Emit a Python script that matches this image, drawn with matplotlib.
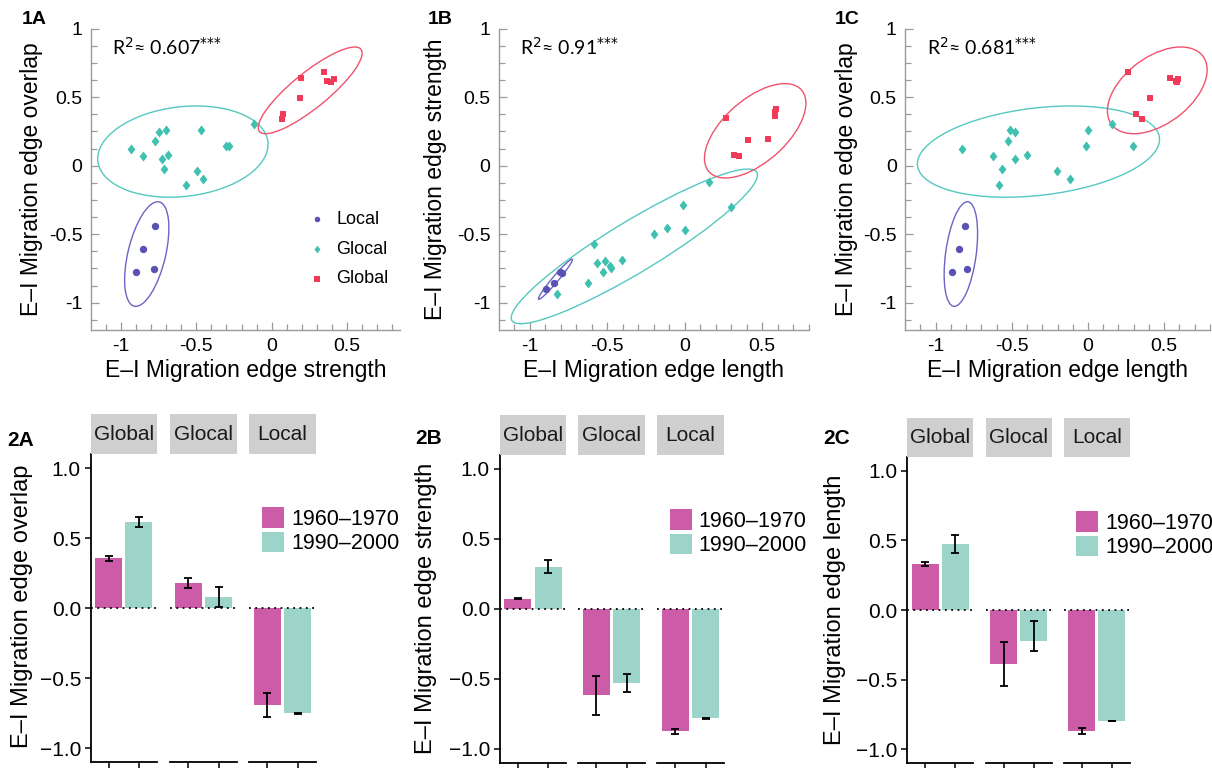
import numpy as np
import matplotlib
matplotlib.use("Agg")
import matplotlib.pyplot as plt
from matplotlib.patches import Ellipse, Patch
from matplotlib.transforms import blended_transform_factory

plt.rcParams['font.family'] = ['Liberation Sans', 'DejaVu Sans']

# --- scatter data: E-I indices of each node, by group ---
local_strength = [-0.777, -0.856, -0.900, -0.781]
local_length = [-0.808, -0.845, -0.893, -0.792]
local_overlap = [-0.440, -0.608, -0.778, -0.754]

glocal_strength = [-0.933, -0.856, -0.775, -0.746, -0.698, -0.730, -0.690, -0.712,
                   -0.570, -0.498, -0.468, -0.454, -0.302, -0.284, -0.118]
glocal_length = [-0.827, -0.625, -0.526, -0.477, -0.513, -0.480, -0.403, -0.563,
                 -0.584, -0.201, 0.002, -0.116, 0.298, -0.013, 0.155]
glocal_overlap = [0.119, 0.069, 0.180, 0.244, 0.258, 0.050, 0.080, -0.024,
                  -0.142, -0.041, 0.258, -0.097, 0.145, 0.142, 0.304]

global_strength = [0.195, 0.345, 0.365, 0.390, 0.413, 0.185, 0.075, 0.070]
global_length = [0.540, 0.265, 0.580, 0.585, 0.590, 0.410, 0.318, 0.353]
global_overlap = [0.638, 0.684, 0.620, 0.613, 0.631, 0.494, 0.376, 0.344]

r2_values = ["0.607", "0.91", "0.681"]

# --- bar data: rows = facet, cols = period ---
facets = ["Global", "Glocal", "Local"]
periods = ["1960–1970", "1990–2000"]

overlap_mean = [[0.357, 0.617], [0.179, 0.083], [-0.691, -0.750]]
overlap_lo = [[0.340, 0.583], [0.145, 0.011], [-0.774, -0.753]]
overlap_hi = [[0.376, 0.650], [0.214, 0.154], [-0.607, -0.747]]

strength_mean = [[0.074, 0.302], [-0.614, -0.531], [-0.874, -0.781]]
strength_lo = [[0.070, 0.255], [-0.757, -0.590], [-0.895, -0.783]]
strength_hi = [[0.078, 0.348], [-0.479, -0.467], [-0.855, -0.779]]

length_mean = [[0.333, 0.472], [-0.386, -0.221], [-0.873, -0.799]]
length_lo = [[0.317, 0.410], [-0.544, -0.293], [-0.894, -0.801]]
length_hi = [[0.348, 0.540], [-0.233, -0.082], [-0.849, -0.797]]

y_ticklabels_top = ["-1", "-0.5", "0", "0.5", "1"]
x_ticklabels_top = ["-1", "-0.5", "0", "0.5"]
y_ticklabels_bar = ["\u22121.0", "\u22120.5", "0.0", "0.5", "1.0"]

# colours
c_local, c_glocal, c_global = "#5a52b3", "#3fc0b0", "#f03c58"
e_local, e_glocal, e_global = "#6a64c4", "#55c8c0", "#f0526c"
c60, c90 = "#cd5ca8", "#9dd4c9"
spine_grey = "#9a9a9a"

W, H = 1212, 768
fig = plt.figure(figsize=(W / 100, H / 100), dpi=100)


def px_axes(l, t, r, b):
    return fig.add_axes([l / W, 1 - b / H, (r - l) / W, (b - t) / H])


diamond = [(0, 1), (0.78, 0), (0, -1), (-0.78, 0), (0, 1)]


def conf_ellipse(ax, x, y, color):
    x = np.asarray(x)
    y = np.asarray(y)
    vals, vecs = np.linalg.eigh(np.cov(x, y))
    order = vals.argsort()[::-1]
    vals, vecs = vals[order], vecs[:, order]
    angle = np.degrees(np.arctan2(vecs[1, 0], vecs[0, 0]))
    k = np.sqrt(-2 * np.log(0.05))
    ax.add_patch(Ellipse((x.mean(), y.mean()), 2 * k * np.sqrt(vals[0]),
                         2 * k * np.sqrt(vals[1]), angle=angle, fill=False,
                         ec=color, lw=1.0, zorder=2))


def scatter_panel(ax, xs, ys, xlabel, ylabel, r2, xmax, ylab_x):
    groups = [("Local", "o", 28, c_local, e_local),
              ("Glocal", diamond, 52, c_glocal, e_glocal),
              ("Global", "s", 24, c_global, e_global)]
    for (name, mk, s, c, ec), x, y in zip(groups, xs, ys):
        ax.scatter(x, y, marker=mk, s=s, color=c, lw=0, label=name, zorder=3)
        conf_ellipse(ax, x, y, ec)
    ax.set_xlim(-1.2, xmax)
    ax.set_ylim(-1.2, 1.0)
    ax.set_xticks([-1, -0.5, 0, 0.5])
    ax.set_xticklabels(x_ticklabels_top)
    ax.set_yticks([-1, -0.5, 0, 0.5, 1])
    ax.set_yticklabels(y_ticklabels_top)
    ax.set_xticks(np.arange(-1.1, xmax + 0.01, 0.1), minor=True)
    ax.set_yticks(np.arange(-1.125, 1.0, 0.125), minor=True)
    for sp in ["top", "right"]:
        ax.spines[sp].set_visible(False)
    for sp in ["left", "bottom"]:
        ax.spines[sp].set_color(spine_grey)
        ax.spines[sp].set_linewidth(1.0)
    ax.tick_params(which="both", direction="in", color=spine_grey, width=0.9,
                   labelsize=14, labelcolor="black")
    ax.tick_params(which="major", length=6, pad=6)
    ax.tick_params(which="minor", length=4)
    ax.set_xlabel(xlabel, fontsize=16.5)
    ax.set_ylabel(ylabel, fontsize=16.5)
    ax.xaxis.set_label_coords(0.5, 1 - 359 / H,
                              transform=blended_transform_factory(ax.transAxes, fig.transFigure))
    ax.yaxis.set_label_coords(ylab_x / W, 1 - 179.4 / H, transform=fig.transFigure)
    ax.text(0.07, 0.939, "R$^2$\u2248 " + r2 + "$^{{*}{*}{*}}$", transform=ax.transAxes,
            fontsize=14, family=["Lato", "DejaVu Sans"], va="center", ha="left")


ax1a = px_axes(90.7, 28.7, 400.0, 330.1)
scatter_panel(ax1a, [local_strength, glocal_strength, global_strength],
              [local_overlap, glocal_overlap, global_overlap],
              "E\u2013I Migration edge strength", "E\u2013I Migration edge overlap",
              r2_values[0], 0.85, 43.5)
ax1a.legend(loc="upper left", bbox_to_anchor=(0.7026, 0.395), frameon=False,
            fontsize=13, handlelength=1.0, handletextpad=0.55, labelspacing=0.7,
            borderpad=0, borderaxespad=0, markerscale=0.75)

ax1b = px_axes(498.8, 28.7, 808.6, 330.1)
scatter_panel(ax1b, [local_length, glocal_length, global_length],
              [local_strength, glocal_strength, global_strength],
              "E\u2013I Migration edge length", "E\u2013I Migration edge strength",
              r2_values[1], 0.8, 447.3)

ax1c = px_axes(905.2, 28.7, 1209.8, 330.1)
scatter_panel(ax1c, [local_length, glocal_length, global_length],
              [local_overlap, glocal_overlap, global_overlap],
              "E\u2013I Migration edge length", "E\u2013I Migration edge overlap",
              r2_values[2], 0.8, 858.0)

for txt, x, y in [("1A", 34, 20), ("1B", 440, 20), ("1C", 847, 20)]:
    fig.text(x / W, 1 - y / H, txt, fontsize=14, weight="bold", ha="center", va="center")


# --- bar panels (faceted) ---
def bar_panel(facet_x, top, bottom, strip_top, means, lo, hi, ylabel, ylab_xy, leg_xy):
    for i, (l, r) in enumerate(facet_x):
        ax = px_axes(l, top, r, bottom)
        m = means[i]
        yerr = [[m[j] - lo[i][j] for j in range(2)], [hi[i][j] - m[j] for j in range(2)]]
        ax.bar([1, 2], m, width=0.9, color=[c60, c90], zorder=2)
        ax.axhline(0, color="black", ls=(0, (1, 2.5)), lw=1.3, zorder=3)
        ax.errorbar([1, 2], m, yerr=yerr, fmt="none", ecolor="black",
                    elinewidth=1.3, capsize=2.7, capthick=1.3, zorder=4)
        ax.set_xlim(0.4, 2.6)
        ax.set_ylim(-1.1, 1.1)
        ax.set_xticks([1, 2])
        ax.set_xticklabels(["", ""])
        for sp in ["top", "right"]:
            ax.spines[sp].set_visible(False)
        ax.spines["bottom"].set_linewidth(1.3)
        ax.tick_params(axis="x", direction="out", length=5, width=1.1)
        if i == 0:
            ax.spines["left"].set_linewidth(1.3)
            ax.set_yticks([-1, -0.5, 0, 0.5, 1])
            ax.set_yticklabels(y_ticklabels_bar)
            ax.tick_params(axis="y", direction="out", length=4, width=1.1,
                           labelsize=15, pad=3)
            ax.set_ylabel(ylabel, fontsize=17)
            ax.yaxis.set_label_coords(ylab_xy[0] / W, 1 - ylab_xy[1] / H,
                                      transform=fig.transFigure)
        else:
            ax.spines["left"].set_visible(False)
            ax.set_yticks([])
        sax = px_axes(l, strip_top, r, top)
        sax.set_facecolor("#cfcfcf")
        sax.set_xticks([])
        sax.set_yticks([])
        for sp in sax.spines.values():
            sp.set_visible(False)
        sax.text(0.5, 0.5, facets[i], fontsize=15, color="#1a1a1a",
                 ha="center", va="center", transform=sax.transAxes)
    handles = [Patch(facecolor=c60, edgecolor="none"), Patch(facecolor=c90, edgecolor="none")]
    fig.legend(handles, periods, loc="upper left",
               bbox_to_anchor=(leg_xy[0] / W, 1 - leg_xy[1] / H),
               bbox_transform=fig.transFigure, frameon=False, fontsize=15.5,
               handlelength=1.03, handleheight=1.12, handletextpad=0.32,
               labelspacing=0.08, borderpad=0, borderaxespad=0)


bar_panel([(90.7, 156.7), (170.0, 236.7), (249.3, 316.0)], 454.3, 762.3, 414.0,
          overlap_mean, overlap_lo, overlap_hi, "E\u2013I Migration edge overlap",
          (33.5, 606.7), (262.3, 507.0))
bar_panel([(499.7, 566.3), (578.0, 644.7), (657.3, 724.0)], 455.0, 763.0, 415.3,
          strength_mean, strength_lo, strength_hi, "E\u2013I Migration edge strength",
          (437.3, 608.0), (669.7, 509.0))
bar_panel([(907.0, 973.0), (985.7, 1051.7), (1063.7, 1129.7)], 457.0, 763.0, 418.0,
          length_mean, length_lo, length_hi, "E\u2013I Migration edge length",
          (846.3, 610.0), (1076.3, 511.0))

for txt, x, y in [("2A", 21, 440), ("2B", 429, 438), ("2C", 837, 439)]:
    fig.text(x / W, 1 - y / H, txt, fontsize=15, weight="bold", ha="center", va="center")

fig.savefig("out.png", dpi=100)
